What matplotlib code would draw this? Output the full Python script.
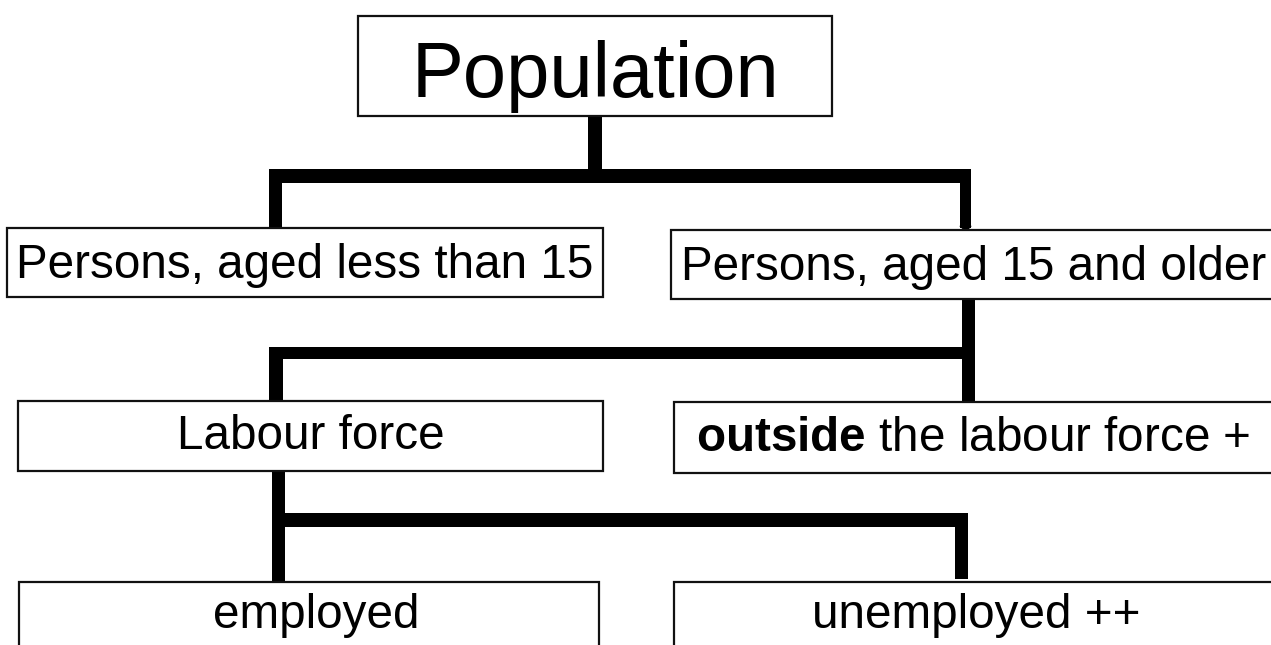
import matplotlib
matplotlib.use("Agg")
import matplotlib.pyplot as plt
from matplotlib.patches import Rectangle

plt.rcParams['font.family'] = ['Liberation Sans', 'DejaVu Sans']
plt.rcParams['mathtext.fontset'] = 'custom'
plt.rcParams['mathtext.rm'] = 'Liberation Sans'
plt.rcParams['mathtext.bf'] = 'Liberation Sans:bold'

# ---- content ----
node_ids = ["pop", "young", "older", "labour", "outside", "employed", "unemployed"]
node_labels = [
    "Population",
    "Persons, aged less than 15",
    "Persons, aged 15 and older",
    "Labour force",
    r"$\bf{outside}$ the labour force +",
    "employed",
    "unemployed ++",
]
edges = [("pop", "young"), ("pop", "older"),
         ("older", "labour"), ("older", "outside"),
         ("labour", "employed"), ("labour", "unemployed")]

# ---- layout (pixel coordinates, y downward) ----
boxes = {  # x0, y0, x1, y1
    "pop": (358, 16, 832, 116),
    "young": (7, 228, 603, 297),
    "older": (671, 230, 1282, 299),
    "labour": (18, 401, 603, 471),
    "outside": (674, 402, 1274, 473),
    "employed": (19, 582, 599, 655),
    "unemployed": (674, 582, 1280, 655),
}
font_sizes = {"pop": 56, "young": 34.3, "older": 34.3, "labour": 34.3,
              "outside": 34.3, "employed": 34.3, "unemployed": 34.3}
text_x = {"pop": 595, "young": 305, "older": 974, "labour": 311,
          "outside": 973, "employed": 316, "unemployed": 976}
text_base = {"pop": 97, "young": 278, "older": 280, "labour": 449,
             "outside": 451, "employed": 628, "unemployed": 628}

# connector rectangles: x0, y0, x1, y1
connectors = [
    (588, 116, 602, 170),   # population stem
    (269, 169, 971, 183),   # top bar
    (269, 183, 282, 228),   # left stem
    (960, 183, 971, 228),   # right stem
    (962, 299, 975, 348),   # stem below 15+
    (269, 347, 975, 359),   # second bar
    (269, 359, 283, 401),   # to labour
    (962, 359, 975, 402),   # to outside
    (272, 471, 285, 582),   # stem below labour
    (283, 513, 968, 527),   # third bar
    (955, 513, 968, 579),   # to unemployed
]

W, H = 1271, 645
fig = plt.figure(figsize=(W / 100, H / 100), dpi=100)
ax = fig.add_axes([0, 0, 1, 1])
ax.set_xlim(0, W)
ax.set_ylim(H, 0)
ax.axis("off")

for (x0, y0, x1, y1) in connectors:
    ax.add_patch(Rectangle((x0, y0), x1 - x0, y1 - y0, facecolor="black",
                           edgecolor="none", zorder=1))
# small pointed tip of the right top stem
ax.fill([960, 971, 966], [226, 226, 231], color="black", zorder=1)

for nid, label in zip(node_ids, node_labels):
    x0, y0, x1, y1 = boxes[nid]
    ax.add_patch(Rectangle((x0, y0), x1 - x0, y1 - y0, facecolor="white",
                           edgecolor="#111111", linewidth=1.6, zorder=2))
    ax.text(text_x[nid], text_base[nid], label, fontsize=font_sizes[nid],
            ha="center", va="baseline", color="black", zorder=3)

fig.savefig("out.png", dpi=100)
